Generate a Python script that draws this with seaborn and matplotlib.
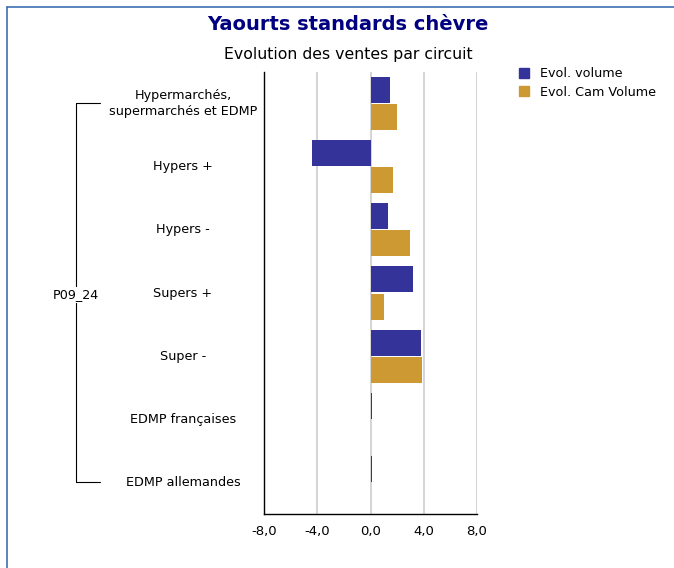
import pandas as pd
import matplotlib.pyplot as plt
import seaborn as sns
from matplotlib.lines import Line2D
from matplotlib.ticker import FuncFormatter

# Data
categories = ['Hypermarchés,\nsupermarchés et EDMP', 'Hypers +', 'Hypers -', 'Supers +',
              'Super -', 'EDMP françaises', 'EDMP allemandes']
evol_volume = [1.5, -4.4, 1.3, 3.2, 3.8, 0.08, 0.08]
evol_cam_volume = [2.0, 1.7, 3.0, 1.0, 3.9, 0.06, 0.06]
series_names = ['Evol. volume', 'Evol. Cam Volume']
group_label = 'P09_24'
x_ticks = [-8, -4, 0, 4, 8]

df = pd.DataFrame({
    'Circuit': categories * 2,
    'Serie': [series_names[0]] * len(categories) + [series_names[1]] * len(categories),
    'Valeur': evol_volume + evol_cam_volume,
})

sns.set_style("white")
plt.rcParams['font.family'] = ['DejaVu Sans']
plt.rcParams['text.color'] = 'black'
plt.rcParams['xtick.color'] = 'black'

fig = plt.figure(figsize=(6.74, 5.68), dpi=100)
ax = fig.add_axes([264 / 674, 1 - 514 / 568, 213 / 674, 442 / 568])

palette = {series_names[0]: '#333399', series_names[1]: '#CC9933'}
sns.barplot(data=df, x='Valeur', y='Circuit', hue='Serie', order=categories,
            hue_order=series_names, palette=palette, orient='h', width=0.86, gap=0.04,
            saturation=1, linewidth=0, ax=ax)

ax.set_xlim(-8, 8)
ax.set_xticks(x_ticks)
ax.xaxis.set_major_formatter(FuncFormatter(lambda v, p: f"{v:.1f}".replace('.', ',')))
ax.tick_params(axis='x', length=0, labelsize=9.5, pad=8, labelcolor='black')
ax.set_xlabel('')
ax.set_ylabel('')
ax.set_yticks([])
ax.grid(axis='x', color='#d4d4d4', linewidth=1.4)
ax.set_axisbelow(True)
for s in ['top', 'right']:
    ax.spines[s].set_visible(False)
for s in ['left', 'bottom']:
    ax.spines[s].set_color('black')
    ax.spines[s].set_linewidth(1.0)

# category labels
for i, c in enumerate(categories):
    ax.text(-0.38, i, c, transform=ax.get_yaxis_transform(), ha='center', va='center',
            fontsize=9.2, linespacing=1.3, color='black')

# group bracket
bx = 76 / 674
y_top = 1 - 103 / 568
y_bot = 1 - 482 / 568
fig.add_artist(Line2D([bx, bx], [y_top, y_bot], color='black', lw=0.8))
fig.add_artist(Line2D([bx, 100 / 674], [y_top, y_top], color='black', lw=0.8))
fig.add_artist(Line2D([bx, 100 / 674], [y_bot, y_bot], color='black', lw=0.8))
fig.text(76 / 674, 1 - 295 / 568, group_label, ha='center', va='center', fontsize=9.2,
         color='black', bbox=dict(facecolor='white', edgecolor='none', pad=1))

# titles
fig.text(348 / 674, 1 - 25 / 568, 'Yaourts standards chèvre', ha='center', va='center',
         fontsize=14, fontweight='bold', color='#000080')
fig.text(348 / 674, 1 - 55 / 568, 'Evolution des ventes par circuit', ha='center', va='center',
         fontsize=11.3, color='black')

# legend
ax.legend_.remove()
handles = [Line2D([], [], marker='s', linestyle='', markersize=7.5, color=palette[n]) for n in series_names]
fig.legend(handles, series_names, loc='upper left', bbox_to_anchor=(506 / 674, 1 - 62 / 568),
           frameon=False, fontsize=9.2, handletextpad=0.3, labelspacing=0.45, borderaxespad=0,
           labelcolor='black')

# outer frame
fig.add_artist(Line2D([7 / 674, 7 / 674], [0, 1 - 7 / 568], color='#3c6fb4', lw=1.2))
fig.add_artist(Line2D([7 / 674, 1], [1 - 7 / 568, 1 - 7 / 568], color='#3c6fb4', lw=1.2))

fig.savefig('out.png', dpi=100)
